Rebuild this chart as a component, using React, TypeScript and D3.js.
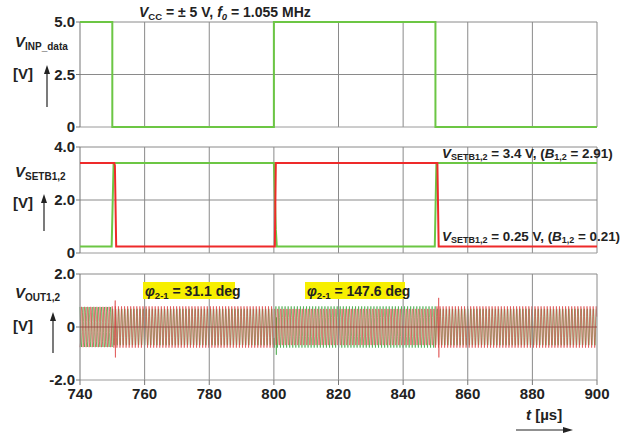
import React from "react";
import * as d3 from "d3";

// ---------- data ----------
const timeTicks = [740, 760, 780, 800, 820, 840, 860, 880, 900];
const inpTicks = [0, 2.5, 5.0];
const inpTickLabels = ["0", "2.5", "5.0"];
const setbTicks = [0, 2.0, 4.0];
const setbTickLabels = ["0", "2.0", "4.0"];
const outTicks = [-2.0, 0, 2.0];
const outTickLabels = ["-2.0", "0", "2.0"];

// V_INP_data step waveform (t in µs, V)
const inpT = [740, 750, 750, 800, 800, 850, 850, 900];
const inpV = [5, 5, 0, 0, 5, 5, 0, 0];

// V_SETB1 (red) and V_SETB2 (green)
const setbRedT = [740, 750.6, 750.8, 751.2, 800.3, 800.6, 850.6, 851.0, 900];
const setbRedV = [3.4, 3.4, 3.3, 0.25, 0.25, 3.4, 3.4, 0.25, 0.25];
const setbGreenT = [740, 749.8, 750.4, 800, 800.6, 800.9, 849.8, 850.3, 900];
const setbGreenV = [0.25, 0.25, 3.4, 3.4, 0.9, 0.25, 0.25, 3.4, 3.4];

// V_OUT segments: carrier 1.055 MHz, phase difference per segment
const f0MHz = 1.055;
const segStart = [740, 750, 800, 850];
const segEnd = [750, 800, 850, 900];
const segPhaseDeg = [147.6, 31.1, 147.6, 31.1];
const outAmpRed = [0.8, 0.78, 0.78, 0.78];
const outAmpGreen = [0.78, 0.78, 0.78, 0.78];
// switching transients
const spikeT = [750.9, 800.7, 851.0];
const spikeSeries = ["red", "green", "red"];
const spikeHi = [1.0, 0.5, 1.1];
const spikeLo = [-1.15, -1.05, -1.15];

// ---------- layout ----------
const W = 642;
const H = 434;
const x = d3.scaleLinear().domain([740, 900]).range([80, 597]);
const y1 = d3.scaleLinear().domain([0, 5]).range([127, 22]);
const y2 = d3.scaleLinear().domain([0, 4]).range([253, 147]);
const y3 = d3.scaleLinear().domain([-2, 2]).range([380, 274]);

const GREEN = "#6cc644";
const RED = "#ee2a2a";
const GRID = "#8a8a8a";
const FONT = "'Liberation Sans', Arial, sans-serif";

function buildOut(series: "red" | "green") {
  const pts: [number, number][] = [];
  const dt = 1 / f0MHz / 6;
  for (let s = 0; s < segStart.length; s++) {
    const ph = series === "red" ? 0 : (segPhaseDeg[s] * Math.PI) / 180;
    const amp = series === "red" ? outAmpRed[s] : outAmpGreen[s];
    for (let t = segStart[s]; t < segEnd[s]; t += dt) {
      pts.push([t, amp * Math.sin(2 * Math.PI * f0MHz * t - ph)]);
      for (let k = 0; k < spikeT.length; k++) {
        if (spikeSeries[k] === series && spikeT[k] >= t && spikeT[k] < t + dt) {
          pts.push([spikeT[k], spikeHi[k]]);
          pts.push([spikeT[k] + dt * 0.4, spikeLo[k]]);
        }
      }
    }
  }
  return pts;
}

const lineGen = (ys: d3.ScaleLinear<number, number>) =>
  d3
    .line<[number, number]>()
    .x((d) => x(d[0]))
    .y((d) => ys(d[1]));

function zip(a: number[], b: number[]): [number, number][] {
  return a.map((v, i) => [v, b[i]]);
}

function Panel({
  ys,
  ticks,
  labels,
  gridY,
  showX,
}: {
  ys: d3.ScaleLinear<number, number>;
  ticks: number[];
  labels: string[];
  gridY: number[];
  showX?: boolean;
}) {
  const [top, bottom] = [ys.range()[1], ys.range()[0]];
  return (
    <g>
      {timeTicks.slice(1, -1).map((t) => (
        <line key={"v" + t} x1={x(t)} x2={x(t)} y1={top} y2={bottom} stroke={GRID} strokeWidth={1} />
      ))}
      {gridY.map((v) => (
        <line key={"h" + v} x1={x(740)} x2={x(900)} y1={ys(v)} y2={ys(v)} stroke={GRID} strokeWidth={1} />
      ))}
      <line x1={x(740)} x2={x(900)} y1={top} y2={top} stroke={GRID} />
      <line x1={x(900)} x2={x(900)} y1={top} y2={bottom} stroke={GRID} />
      <line x1={x(740)} x2={x(900)} y1={bottom} y2={bottom} stroke="#9a9a9a" />
      <line x1={x(740)} x2={x(740)} y1={top} y2={bottom} stroke="#777" />
      {ticks.map((v, i) => (
        <g key={"t" + v}>
          <line x1={x(740) - 4} x2={x(740)} y1={ys(v)} y2={ys(v)} stroke="#777" />
          <text
            x={x(740) - 5}
            y={ys(v) + 5}
            textAnchor="end"
            fontFamily={FONT}
            fontWeight="bold"
            fontSize={15}
            fill="#222"
          >
            {labels[i]}
          </text>
        </g>
      ))}
      {showX &&
        timeTicks.map((t) => (
          <g key={"x" + t}>
            <line x1={x(t)} x2={x(t)} y1={bottom} y2={bottom + 5} stroke="#777" />
            <text
              x={x(t)}
              y={bottom + 19}
              textAnchor="middle"
              fontFamily={FONT}
              fontWeight="bold"
              fontSize={15}
              fill="#222"
            >
              {t}
            </text>
          </g>
        ))}
    </g>
  );
}

function YLabel({ sub, y, unitY, arrowX, arrowTop, arrowBottom }: any) {
  return (
    <g fontFamily={FONT} fontWeight="bold" fill="#222">
      <text x={15} y={y} fontSize={15}>
        <tspan fontStyle="italic">V</tspan>
        <tspan fontSize={10} dy={3}>{sub}</tspan>
      </text>
      <text x={13} y={unitY} fontSize={15}>
        [V]
      </text>
      <line x1={arrowX} x2={arrowX} y1={arrowBottom} y2={arrowTop + 6} stroke="#222" strokeWidth={1.2} />
      <path
        d={`M${arrowX - 3},${arrowTop + 9} L${arrowX},${arrowTop} L${arrowX + 3},${arrowTop + 9} Z`}
        fill="#222"
      />
    </g>
  );
}

export default function App() {
  const red = buildOut("red");
  const green = buildOut("green");
  return (
    <svg
      width={W}
      height={H}
      style={{ position: "absolute", left: 0, top: 0, background: "#fff" }}
      xmlns="http://www.w3.org/2000/svg"
    >
      <rect width={W} height={H} fill="#fff" />
      {/* title */}
      <text x={139} y={17} fontFamily={FONT} fontWeight="bold" fontSize={14} fill="#222">
        <tspan fontStyle="italic">V</tspan>
        <tspan fontSize={9.5} dy={3}>CC</tspan>
        <tspan dy={-3}> = ± 5 V, </tspan>
        <tspan fontStyle="italic">f</tspan>
        <tspan fontSize={9.5} dy={3} fontStyle="italic">0</tspan>
        <tspan dy={-3}> = 1.055 MHz</tspan>
      </text>

      {/* panel 1 */}
      <Panel ys={y1} ticks={inpTicks} labels={inpTickLabels} gridY={[2.5]} />
      <path d={lineGen(y1)(zip(inpT, inpV)) || ""} fill="none" stroke={GREEN} strokeWidth={2} />
      <YLabel sub="INP_data" y={47} unitY={79} arrowX={47} arrowTop={65} arrowBottom={107} />

      {/* panel 2 */}
      <Panel ys={y2} ticks={setbTicks} labels={setbTickLabels} gridY={[2.0]} />
      <path d={lineGen(y2)(zip(setbGreenT, setbGreenV)) || ""} fill="none" stroke={GREEN} strokeWidth={2} />
      <path d={lineGen(y2)(zip(setbRedT, setbRedV)) || ""} fill="none" stroke={RED} strokeWidth={2} />
      <YLabel sub="SETB1,2" y={177} unitY={208} arrowX={44} arrowTop={194} arrowBottom={231} />
      <text x={442} y={158} fontFamily={FONT} fontWeight="bold" fontSize={13.4} fill="#222">
        <tspan fontStyle="italic">V</tspan>
        <tspan fontSize={9} dy={2}>SETB1,2</tspan>
        <tspan dy={-2}> = 3.4 V, (</tspan>
        <tspan fontStyle="italic">B</tspan>
        <tspan fontSize={9} dy={2}>1,2</tspan>
        <tspan dy={-2}> = 2.91)</tspan>
      </text>
      <text x={442} y={241} fontFamily={FONT} fontWeight="bold" fontSize={13.4} fill="#222">
        <tspan fontStyle="italic">V</tspan>
        <tspan fontSize={9} dy={2}>SETB1,2</tspan>
        <tspan dy={-2}> = 0.25 V, (</tspan>
        <tspan fontStyle="italic">B</tspan>
        <tspan fontSize={9} dy={2}>1,2</tspan>
        <tspan dy={-2}> = 0.21)</tspan>
      </text>

      {/* panel 3 */}
      <path d={lineGen(y3)(green) || ""} fill="none" stroke="#2e9e2e" strokeWidth={0.9} opacity={0.65} />
      <path d={lineGen(y3)(red) || ""} fill="none" stroke="#dc3c3c" strokeWidth={1} opacity={0.6} />
      <Panel ys={y3} ticks={outTicks} labels={outTickLabels} gridY={[]} showX />
      <line x1={x(740)} x2={x(900)} y1={y3(0)} y2={y3(0)} stroke="#8b3a3a" strokeWidth={1} opacity={0.8} />
      <YLabel sub="OUT1,2" y={298} unitY={331} arrowX={53} arrowTop={312} arrowBottom={353} />

      <rect x={143} y={282} width={92} height={17} fill="#f7ef00" />
      <text x={145} y={296} fontFamily={FONT} fontWeight="bold" fontSize={14} fill="#222">
        <tspan fontStyle="italic">φ</tspan>
        <tspan fontSize={9.5} dy={3}>2-1</tspan>
        <tspan dy={-3}> = 31.1 deg</tspan>
      </text>
      <rect x={305} y={282} width={100} height={17} fill="#f7ef00" />
      <text x={307} y={296} fontFamily={FONT} fontWeight="bold" fontSize={14} fill="#222">
        <tspan fontStyle="italic">φ</tspan>
        <tspan fontSize={9.5} dy={3}>2-1</tspan>
        <tspan dy={-3}> = 147.6 deg</tspan>
      </text>

      {/* x label */}
      <text x={526} y={420} fontFamily={FONT} fontWeight="bold" fontSize={15} fill="#222">
        <tspan fontStyle="italic">t</tspan>
        <tspan> [µs]</tspan>
      </text>
      <line x1={516} x2={566} y1={430} y2={430} stroke="#222" strokeWidth={1.2} />
      <path d="M563,427 L573,430 L563,433 Z" fill="#222" />
    </svg>
  );
}
